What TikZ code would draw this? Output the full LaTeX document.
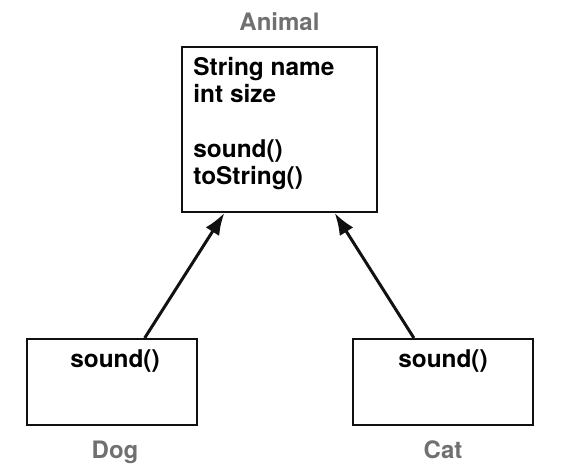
\documentclass[tikz,border=0pt]{standalone}
\usepackage{fontspec}
\setmainfont{TeX Gyre Heros}
\usepackage{xcolor}
\usepackage{tikz}
\definecolor{umlInk}{HTML}{111111}
\definecolor{umlGray}{HTML}{707070}
\usetikzlibrary{arrows.meta,calc}

\begin{document}
\begin{tikzpicture}[x=0.5pt, y=-0.5pt, >=Latex,
    classbox/.style={draw=umlInk, line width=1pt, inner sep=0pt},
    member/.style={inner sep=0pt, align=left, font=\bfseries\fontsize{12.2}{13.6}\selectfont},
    classname/.style={text=umlGray, inner sep=0pt, font=\bfseries\fontsize{12}{14}\selectfont},
    inherit/.style={->, line width=1.5pt, umlInk, arrows={-Latex[length=11pt, width=8pt]}}]
    \useasboundingbox (0,0) rectangle (566,465);
    \node[classbox, minimum width=97.5pt, minimum height=82.5pt] (animal) at (279.5,129.5) {};
    \node[classbox, minimum width=85pt, minimum height=43pt] (dog) at (112,382) {};
    \node[classbox, minimum width=90pt, minimum height=43pt] (cat) at (443,382) {};
    \node[member, anchor=north west] (animalmembers) at ($(animal.north west)+(12,11)$)
      {String name\\int size\\[13.6pt]sound()\\toString()};
    \node[member, anchor=base] (dogmembers) at ($(dog.north)+(3,29)$) {sound()};
    \node[member, anchor=base] (catmembers) at ($(cat.north)+(0,29)$) {sound()};
    \node[classname, anchor=base] (animalname) at ($(animal.north)+(0,-15)$) {Animal};
    \node[classname, anchor=base] (dogname) at ($(dog.south)+(3,32)$) {Dog};
    \node[classname, anchor=base] (catname) at ($(cat.south)+(0,32)$) {Cat};
    \draw[inherit] ($(dog.north west)!0.69!(dog.north east)$) -- ($(animal.south west)!0.22!(animal.south east)$);
    \draw[inherit] ($(cat.north west)!0.34!(cat.north east)$) -- ($(animal.south west)!0.78!(animal.south east)$);
\end{tikzpicture}
\end{document}
